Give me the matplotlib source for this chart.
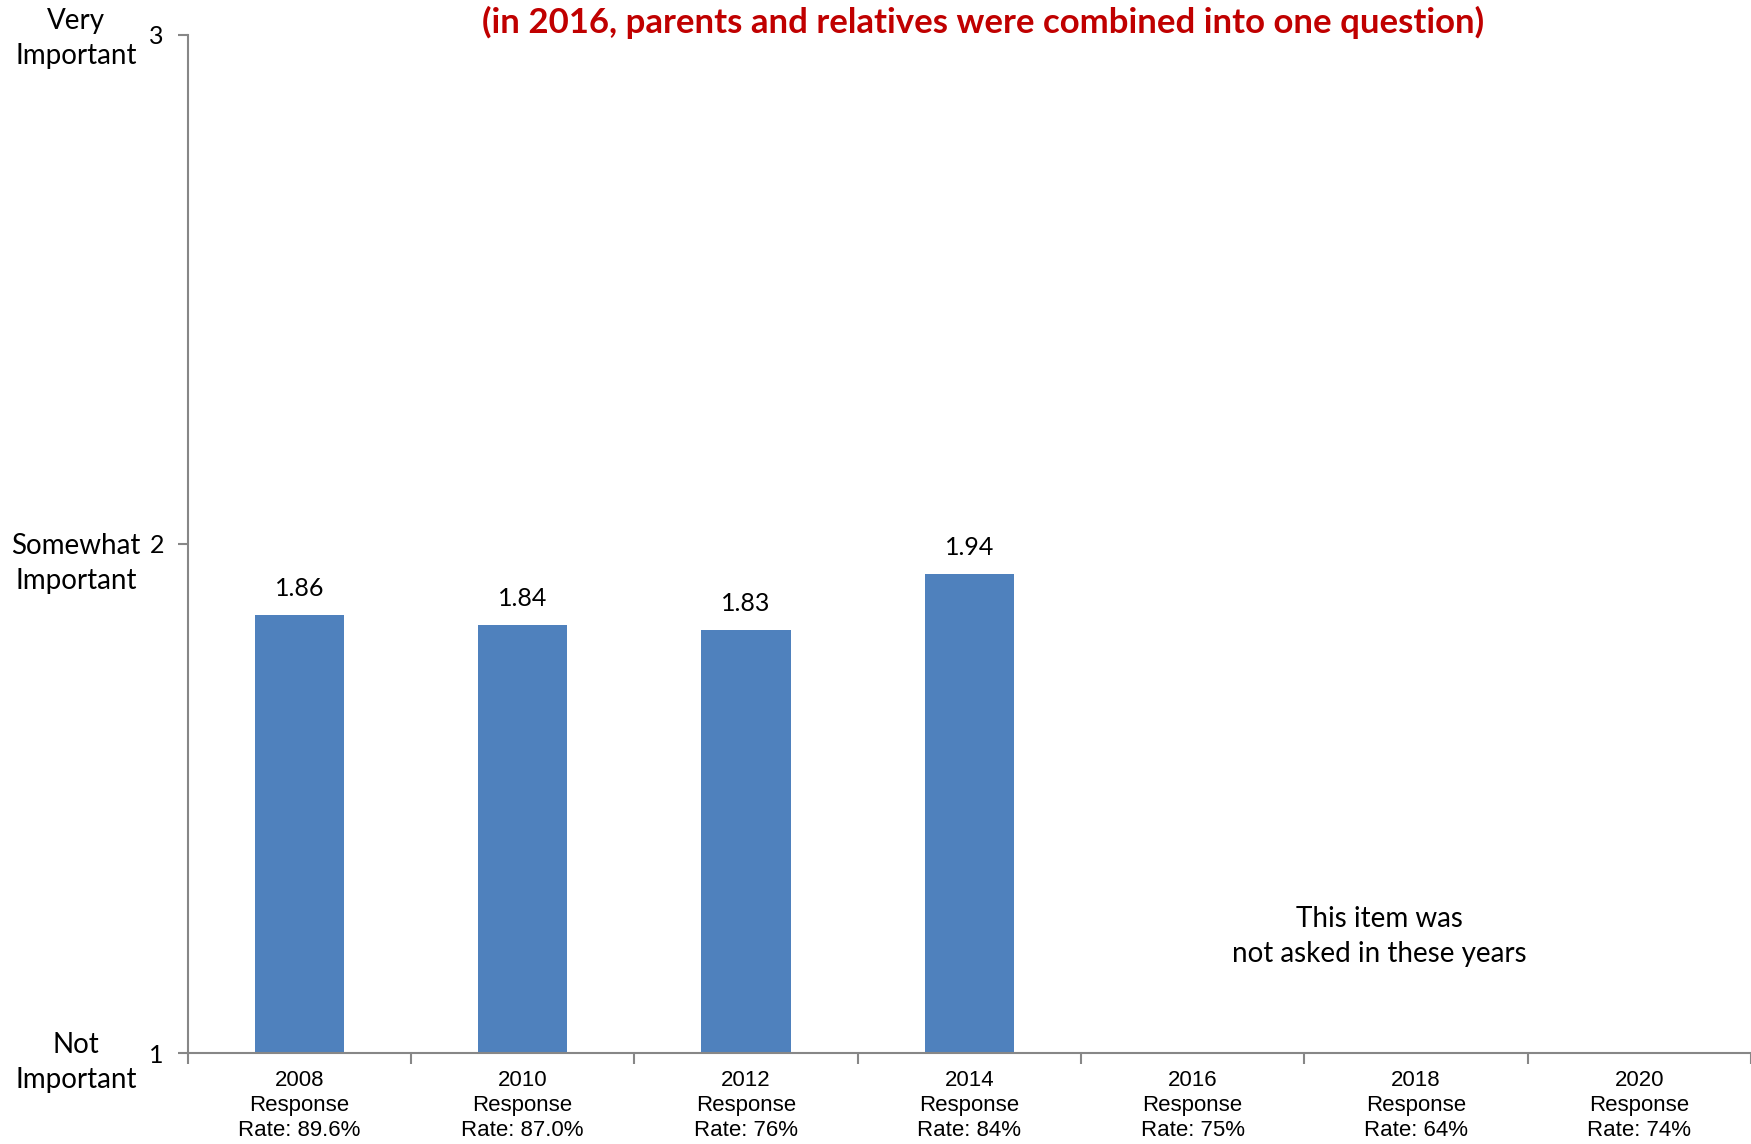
import matplotlib
matplotlib.use('Agg')
import matplotlib.pyplot as plt
from matplotlib.ticker import FixedLocator, NullFormatter
import numpy as np

# ---- data ----
years = ['2008', '2010', '2012', '2014', '2016', '2018', '2020']
rates = ['89.6%', '87.0%', '76%', '84%', '75%', '64%', '74%']
values = [1.86, 1.84, 1.83, 1.94]
ytick_vals = [1, 2, 3]
ytick_names = ['Not\nImportant', 'Somewhat\nImportant', 'Very\nImportant']
title = '(in 2016, parents and relatives were combined into one question)'
note = 'This item was\nnot asked in these years'

MAIN = ['Lato', 'DejaVu Sans']
NARROW = ['Liberation Sans Narrow', 'Liberation Sans', 'DejaVu Sans']

fig = plt.figure(figsize=(17.51, 11.44), dpi=100)
ax = fig.add_axes([0.1071, 0.0795, 0.8929, 0.8903])

x = np.arange(len(values))
ax.bar(x, [v - 1 for v in values], bottom=1, width=0.4, color='#4F81BD')

for xi, v in zip(x, values):
    ax.annotate(f'{v:.2f}', (xi, v), xytext=(0, 19), textcoords='offset points',
                ha='center', va='center', fontsize=18, family=MAIN, color='#000000')

ax.set_xlim(-0.5, len(years) - 0.5)
ax.set_ylim(1, 3)

ax.set_xticks(np.arange(len(years)))
ax.set_xticklabels([f'{y}\nResponse\nRate: {r}' for y, r in zip(years, rates)],
                   family=NARROW, fontsize=16, linespacing=1.26)
ax.xaxis.set_minor_locator(FixedLocator(np.arange(len(years) + 1) - 0.5))
ax.xaxis.set_minor_formatter(NullFormatter())
ax.tick_params(axis='x', which='major', length=0, pad=12)
ax.tick_params(axis='x', which='minor', length=8, width=1.5, color='#878787', direction='out')

ax.set_yticks(ytick_vals)
ax.set_yticklabels([str(v) for v in ytick_vals], family=MAIN, fontsize=18)
ax.tick_params(axis='y', length=7, width=1.5, color='#878787', pad=10)

for s in ['top', 'right']:
    ax.spines[s].set_visible(False)
for s in ['left', 'bottom']:
    ax.spines[s].set_color('#878787')
    ax.spines[s].set_linewidth(1.5)

name_y = [0.0712, 0.5075, 0.9665]
for t, yy in zip(ytick_names, name_y):
    fig.text(0.0434, yy, t, ha='center', va='center', fontsize=20, family=MAIN,
             linespacing=1.45)

fig.text(0.5612, 0.9800, title, ha='center', va='center', fontsize=25,
         fontweight='bold', color='#C00000', family=MAIN)
fig.text(0.7876, 0.1814, note, ha='center', va='center', fontsize=20, family=MAIN,
         linespacing=1.45)

fig.savefig('out.png', dpi=100)
